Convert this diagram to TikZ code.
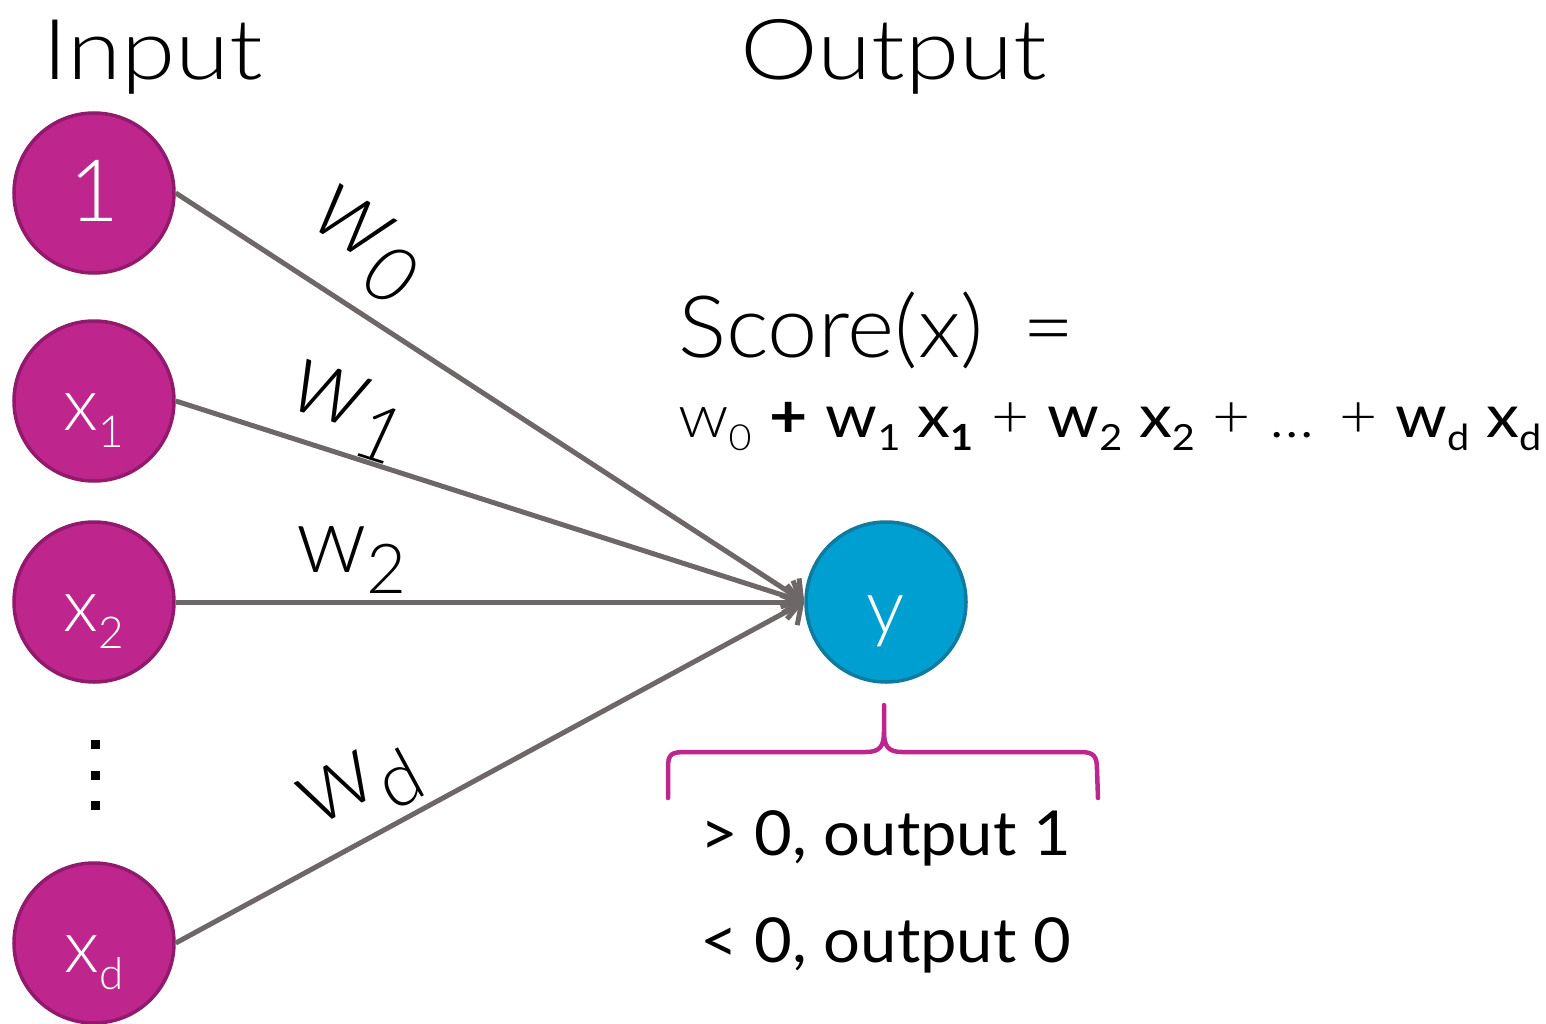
\documentclass[tikz,border=0pt]{standalone}
\usepackage{fontspec}
\setmainfont{Lato Light}
\newfontfamily\lreg{Lato}
\newfontfamily\wideL{Lato Light}[FakeStretch=1.17]
\newfontfamily\midL{Lato Light}[FakeStretch=1.05]
\newfontfamily\formL{Lato Light}[FakeStretch=1.1]
\newfontfamily\formR{Lato}[FakeStretch=1.1]
\newfontfamily\outR{Lato}[FakeStretch=1.05]
\usetikzlibrary{arrows.meta}
\definecolor{mag}{HTML}{BF268D}
\definecolor{magd}{HTML}{921A6C}
\definecolor{cy}{HTML}{009FD1}
\definecolor{cyd}{HTML}{0E7B9F}
\definecolor{gr}{HTML}{6D6867}
\newcommand\sbs[2][0.6]{\raisebox{-0.23em}{\scalebox{#1}{#2}}}
\newcommand\csub[1]{\raisebox{-17pt}{\fontsize{44}{44}\selectfont #1}}
\newcommand\fs[1]{\fontsize{#1}{#1}\selectfont}
\tikzset{
  inp/.style={circle, minimum size=160pt, inner sep=0pt, fill=mag, draw=magd, line width=3.5pt, text=white, font=\fs{74}},
  lowtxt/.style={text height=58pt, text depth=0pt},
  outp/.style={circle, minimum size=160pt, inner sep=0pt, fill=cy, draw=cyd, line width=3.5pt, text=white, font=\fs{76}},
  arr/.style={draw=gr, line width=5pt, -{Straight Barb[length=14pt,width=34pt]}},
  wlab/.style={font=\fs{105}\itshape, text=black, inner sep=0pt},
  ttl/.style={font=\wideL\fs{84}, anchor=base west, inner sep=0pt},
  dotsq/.style={fill=black, minimum size=9pt, inner sep=0pt},
}
\begin{document}
\begin{tikzpicture}[x=1pt,y=-1pt]
\useasboundingbox (0,0) rectangle (1546,1024);
\node[ttl] (tin) at (42,80) {Input};
\node[ttl] (tout) at (740,80) {Output};
\node[inp] (n1) at (94,193) {\raisebox{0.05em}{\fs{86}1}};
\node[inp, lowtxt] (x1) at (94,401) {x\csub{1}};
\node[inp, lowtxt] (x2) at (94,602) {x\csub{2}};
\node[inp, lowtxt] (xd) at (94,943) {x\csub{d}};
\node[dotsq] (d1) at (95,744) {};
\node[dotsq] (d2) at (95,775) {};
\node[dotsq] (d3) at (95,805) {};
\node[outp, text height=62pt, text depth=0pt] (y) at (886,602) {y};
\draw[arr] (n1.east) -- node[wlab, pos=0.25, above=18pt, sloped] (l0) {w\sbs[0.75]{0}} (y.west);
\draw[arr] (x1.east) -- node[wlab, pos=0.254, above=1pt, sloped] (l1) {w\sbs[0.75]{1}} (y.west);
\draw[arr] (x2.east) -- node[wlab, pos=0.28, above=6pt, sloped, font=\fs{92}] (l2) {w\sbs[0.75]{2}} (y.west);
\draw[arr] (xd.east) -- node[wlab, pos=0.33, above=8pt, sloped, font=\fs{100}] (ld) {w\sbs[0.75]{d}} (y.west);
\node[ttl, font=\midL\fs{86}] (score) at (678,357) {Score(x) \,=};
\node[ttl, font=\formL\fs{60}] (form) at (678,437) {w\sbs{0} {\formR\bfseries +} {\formR w\sbs{1} x\sbs{\bfseries 1}} + {\formR w\sbs{2} x\sbs{2}} + ... + {\formR w\sbs{d} x\sbs{d}}};
\draw[mag, line width=4.5pt, line cap=round, line join=round]
  (668,798) -- (668,768) .. controls (668,754) and (671,752) .. (686,752) -- (866,752)
  .. controls (880,752) and (884,746) .. (884,732) -- (884,705);
\draw[mag, line width=4.5pt, line cap=round, line join=round]
  (884,732) .. controls (884,746) and (888,752) .. (902,752) -- (1080,752)
  .. controls (1094,752) and (1097,756) .. (1097,770) -- (1098,798);
\node[ttl, font=\outR\fs{62}] (o1) at (700,855) {> 0, output 1};
\node[ttl, font=\outR\fs{62}] (o0) at (700,962) {< 0, output 0};
\end{tikzpicture}
\end{document}
